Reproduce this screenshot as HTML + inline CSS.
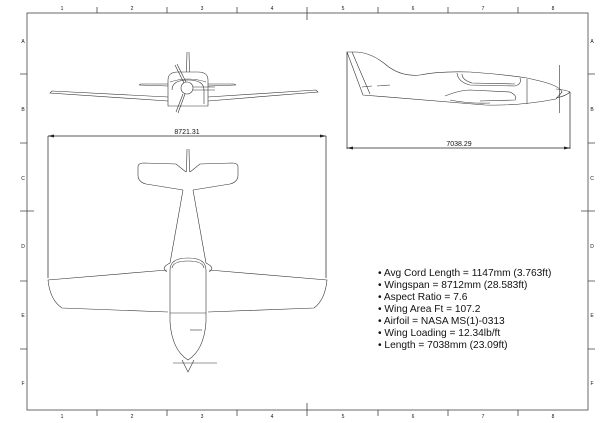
<!DOCTYPE html>
<html><head><meta charset="utf-8"><style>
html,body{margin:0;padding:0;background:#fff;}
svg{display:block;}
text{font-family:"Liberation Sans",sans-serif;fill:#111;}
</style></head><body>
<svg width="600" height="423" viewBox="0 0 600 423" xmlns="http://www.w3.org/2000/svg">
<g stroke="#444" stroke-width="0.8" fill="none">
<rect x="27" y="13" width="561" height="397"/>
<path d="M97 7V13M167 7V13M237 7V13M307 7V20M378 7V13M448 7V13M518 7V13"/>
<path d="M97 410V416M167 410V416M237 410V416M307 403V416M378 410V416M448 410V416M518 410V416"/>
<path d="M20 74H27M20 143H27M20 211H34M20 281H27M20 349H27"/>
<path d="M588 74H595M588 143H595M581 211H595M588 281H595M588 349H595"/>
</g>
<g font-size="5" text-anchor="middle">
<text x="62" y="10">1</text><text x="132" y="10">2</text><text x="202" y="10">3</text><text x="272" y="10">4</text><text x="343" y="10">5</text><text x="413" y="10">6</text><text x="483" y="10">7</text><text x="553" y="10">8</text>
<text x="62" y="418">1</text><text x="132" y="418">2</text><text x="202" y="418">3</text><text x="272" y="418">4</text><text x="343" y="418">5</text><text x="413" y="418">6</text><text x="483" y="418">7</text><text x="553" y="418">8</text>
<text x="23" y="43">A</text><text x="23" y="111">B</text><text x="23" y="180">C</text><text x="23" y="248">D</text><text x="23" y="317">E</text><text x="23" y="385">F</text>
<text x="592" y="43">A</text><text x="592" y="111">B</text><text x="592" y="180">C</text><text x="592" y="248">D</text><text x="592" y="317">E</text><text x="592" y="385">F</text>
</g>

<!-- front view -->
<g stroke="#333" stroke-width="0.6" fill="none">
<path d="M187 52L186.5 72M189 52L189.5 72"/>
<path d="M168 101L50 93L52 91L168 97"/>
<path d="M208 101L318 92L316 90L208 97"/>
<path d="M168 86L139 85L141 84L168 84M208 86L236 85L234 84L208 84"/>
<path d="M168 106V80Q168 72 178 72H198Q208 72 208 80V106Z"/>
<path d="M172 90Q172 80 188 80Q204 80 204 90V104"/>
<path d="M170 82Q188 76 206 82"/>
<circle cx="187" cy="88" r="6"/>
<path d="M175 65L184 83M177 64L186 82M176 112L183 94M178 113L185 94M193 87H215M193 90H215"/>
</g>
<g stroke="#222" stroke-width="0.7">
<path d="M48 136H326M48 136V278M326 136V278"/>
</g>
<path d="M48 136L54 134.5V137.5Z M326 136L320 134.5V137.5Z" fill="#222"/>
<text x="187" y="134" font-size="7" text-anchor="middle">8721.31</text>

<!-- top view -->
<g stroke="#333" stroke-width="0.6" fill="none">
<path d="M187 149L186.5 172M189 149L189.5 172"/>
<path d="M183 190L146 184Q138 182 138 175V167Q138 163 144 163L176 164L186 172M193 190L230 184Q238 182 238 175V167Q238 163 232 163L200 164L190 172"/>
<path d="M183 190L170 263M193 190L206 263"/>
<path d="M167 270L48 280Q50 300 62 308L168 312M209 270L327 280Q325 300 314 308L208 312"/>
<path d="M170 263Q160 268 167 272M206 263Q216 268 209 272"/>
<path d="M170 322V270Q170 258 188 258Q206 258 206 270V322"/>
<path d="M172 268Q173 261 188 261Q203 261 204 268"/>
<path d="M170 313H206M170 322Q172 350 188 360Q204 350 206 322"/>
<path d="M190 330H202"/>
<path d="M182 360L188 372L194 360M173 363H217"/>
</g>

<!-- side view -->
<g stroke="#333" stroke-width="0.6" fill="none">
<path d="M347 52L363 95L485 105Q520 106 556 99L562 92Q560 86 540 81L527 78Q500 74 470 72Q440 71 420 75Q400 77 385 64Q370 52 355 52Z"/>
<path d="M352 52L370 94M362 87L372 86M377 86L390 85"/>
<path d="M457 73Q458 82 470 85L515 86Q522 84 520 78"/>
<path d="M462 74Q462 80 472 83L515 84"/>
<path d="M445 96Q460 90 470 90L510 92Q518 96 515 100L480 101"/>
<path d="M450 100Q470 104 490 103"/>
<path d="M527 79V104"/>
<path d="M556 89Q566 90 570 92Q566 96 556 98"/>
<path d="M559.5 65V113"/>
</g>
<g stroke="#222" stroke-width="0.7">
<path d="M347 52V149M570 92V149M347 148H570"/>
</g>
<path d="M347 148L353 146.5V149.5Z M570 148L564 146.5V149.5Z" fill="#222"/>
<text x="459" y="146" font-size="7" text-anchor="middle">7038.29</text>

<g font-size="10.2">
<text x="378" y="276">• Avg Cord Length = 1147mm (3.763ft)</text>
<text x="378" y="288">• Wingspan = 8712mm (28.583ft)</text>
<text x="378" y="300">• Aspect Ratio = 7.6</text>
<text x="378" y="312">• Wing Area Ft = 107.2</text>
<text x="378" y="324">• Airfoil = NASA MS(1)-0313</text>
<text x="378" y="336">• Wing Loading = 12.34lb/ft</text>
<text x="378" y="348">• Length = 7038mm (23.09ft)</text>
</g>
</svg>
</body></html>
